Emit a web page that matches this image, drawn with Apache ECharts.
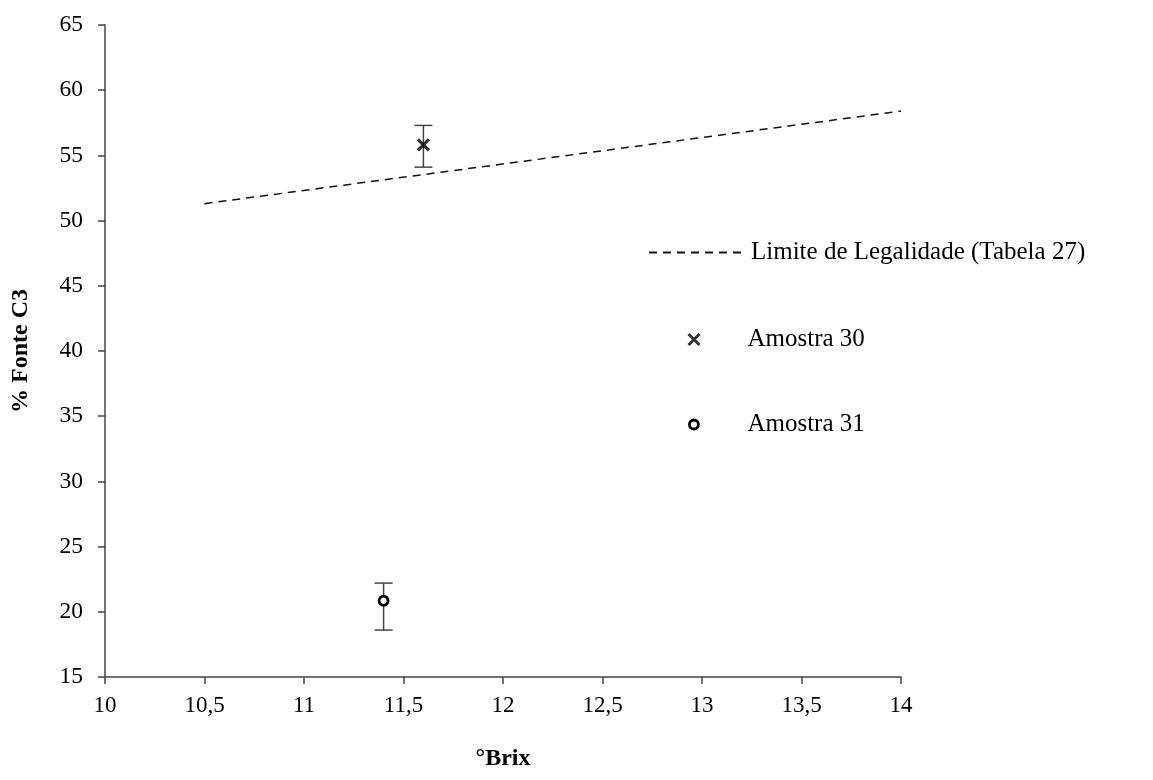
<!DOCTYPE html>
<html>
<head>
<meta charset="utf-8">
<script src="https://cdn.jsdelivr.net/npm/echarts@6/dist/echarts.min.js"></script>
<style>html,body{margin:0;padding:0;background:#fff}#c{width:1153px;height:780px}</style>
</head>
<body>
<div id="c"></div>
<script>
// ---- data ----
var xTicks = [10, 10.5, 11, 11.5, 12, 12.5, 13, 13.5, 14];
var yTicks = [15, 20, 25, 30, 35, 40, 45, 50, 55, 60, 65];
var limitName = 'Limite de Legalidade (Tabela 27)';
var limitX = [10.5, 14];
var limitY = [51.3, 58.4];
var sampleNames = ['Amostra 30', 'Amostra 31'];
var sampleX = [11.6, 11.4];
var sampleY = [55.8, 20.85];
var errLow = [54.1, 18.6];
var errHigh = [57.3, 22.2];
var xTitle = '°Brix';
var yTitle = '% Fonte C3';

var FONT = '"Liberation Serif", "Times New Roman", serif';
var chart = echarts.init(document.getElementById('c'));

var xMark = 'path://M0,0L10,10M10,0L0,10';
var legendText = { fontFamily: FONT, fontSize: 25, color: '#000' };

var option = {
  animation: false,
  backgroundColor: '#fff',
  grid: { left: 105, right: 252, top: 25, bottom: 103, containLabel: false },
  xAxis: {
    type: 'value', min: xTicks[0], max: xTicks[xTicks.length - 1], interval: 0.5,
    name: xTitle, nameLocation: 'middle', nameGap: 70,
    nameTextStyle: { fontFamily: FONT, fontSize: 24, fontWeight: 'bold', color: '#000' },
    axisLine: { lineStyle: { color: '#444', width: 1.5 } },
    axisTick: { show: true, inside: false, length: 7, lineStyle: { color: '#444', width: 1.5 } },
    axisLabel: { fontFamily: FONT, fontSize: 23, color: '#000', margin: 17,
      formatter: function (v) { return String(v).replace('.', ','); } },
    splitLine: { show: false }
  },
  yAxis: {
    type: 'value', min: yTicks[0], max: yTicks[yTicks.length - 1], interval: 5,
    name: yTitle, nameLocation: 'middle', nameGap: 72, nameRotate: 90,
    nameTextStyle: { fontFamily: FONT, fontSize: 24, fontWeight: 'bold', color: '#000' },
    axisLine: { show: true, lineStyle: { color: '#444', width: 1.5 } },
    axisTick: { show: true, inside: false, length: 7, lineStyle: { color: '#444', width: 1.5 } },
    axisLabel: { fontFamily: FONT, fontSize: 23.5, color: '#000', margin: 22 },
    splitLine: { show: false }
  },
  legend: [
    { data: [limitName], left: 643, top: 235, itemWidth: 97, itemHeight: 14, itemGap: 12,
      itemStyle: { opacity: 0 }, textStyle: legendText },
    { data: [sampleNames[0]], left: 682, top: 322, itemWidth: 97, itemHeight: 11, itemGap: 22,
      itemStyle: { borderWidth: 3, borderColor: '#000' }, textStyle: legendText },
    { data: [sampleNames[1]], left: 683, top: 407, itemWidth: 97, itemHeight: 9, itemGap: 22,
      itemStyle: { borderWidth: 2.8, borderColor: '#000' }, textStyle: legendText }
  ],
  series: [
    {
      name: limitName, type: 'line', symbol: 'none',
      data: limitX.map(function (x, i) { return [x, limitY[i]]; }),
      lineStyle: { color: '#111', width: 1.5, type: [8, 6] },
      itemStyle: { color: '#111' }
    },
    {
      name: 'err', type: 'custom',
      data: sampleX.map(function (x, i) { return [x, errLow[i], errHigh[i]]; }),
      renderItem: function (params, api) {
        var lo = api.coord([api.value(0), api.value(1)]);
        var hi = api.coord([api.value(0), api.value(2)]);
        var hw = 9;
        var st = { stroke: '#444', lineWidth: 1.5 };
        return { type: 'group', children: [
          { type: 'line', shape: { x1: lo[0], y1: lo[1], x2: hi[0], y2: hi[1] }, style: st },
          { type: 'line', shape: { x1: lo[0] - hw, y1: lo[1], x2: lo[0] + hw, y2: lo[1] }, style: st },
          { type: 'line', shape: { x1: hi[0] - hw, y1: hi[1], x2: hi[0] + hw, y2: hi[1] }, style: st }
        ]};
      },
      z: 1
    },
    {
      name: sampleNames[0], type: 'scatter', symbol: xMark, symbolSize: 11,
      data: [[sampleX[0], sampleY[0]]],
      itemStyle: { color: 'transparent', borderColor: '#000', borderWidth: 3.2 },
      z: 3
    },
    {
      name: sampleNames[1], type: 'scatter', symbol: 'circle', symbolSize: 9,
      data: [[sampleX[1], sampleY[1]]],
      itemStyle: { color: '#fff', borderColor: '#000', borderWidth: 2.8, opacity: 1 },
      z: 3
    }
  ]
};
chart.setOption(option);
</script>
</body>
</html>
